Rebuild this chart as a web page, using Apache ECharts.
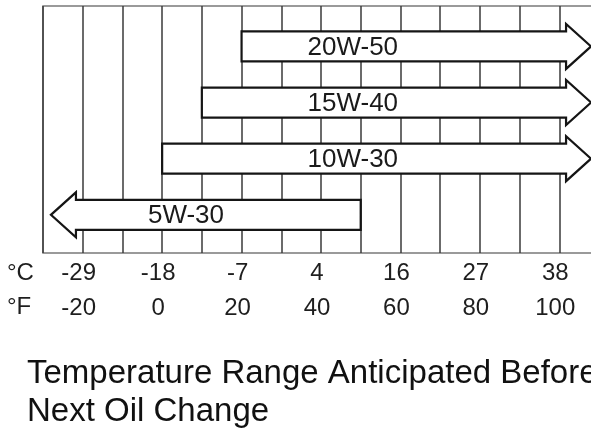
<!DOCTYPE html>
<html>
<head>
<meta charset="utf-8">
<script src="https://cdn.jsdelivr.net/npm/echarts@6/dist/echarts.min.js"></script>
<style>
  html, body { margin: 0; padding: 0; background: #fff; }
  #chart { width: 591px; height: 433px; }
</style>
</head>
<body>
<div id="chart"></div>
<script>
// ---- data ----
const grades = ['5W-30', '10W-30', '15W-40', '20W-50'];
const lowF   = [-28, 0, 10, 20];        // lower end of range (°F); 5W-30 open-ended to the left
const highF  = [50, 108, 108, 108];     // upper end of range (°F); others open-ended to the right
const arrowDir = ['left', 'right', 'right', 'right'];
const fTicks = [-20, 0, 20, 40, 60, 80, 100];
const cTicks = ['-29', '-18', '-7', '4', '16', '27', '38'];
const titleLines = ['Temperature Range Anticipated Before', 'Next Oil Change'];

// ---- style ----
const FONT = "'Liberation Sans', Arial, Helvetica, sans-serif";
const BODY_HALF = 15, HEAD_HALF = 22.5, HEAD_LEN = 25;
const LABEL_AT = { right: 48, left: 6 }; // label anchor in °F

const seriesData = grades.map((g, i) => [lowF[i], highF[i], i, arrowDir[i] === 'left' ? 0 : 1]);

function renderArrow(params, api) {
  const lo = api.coord([api.value(0), api.value(2)]);
  const hi = api.coord([api.value(1), api.value(2)]);
  const yc = lo[1];
  const right = api.value(3) === 1;
  let pts;
  if (right) {
    const xs = lo[0], xt = hi[0], xb = xt - HEAD_LEN;
    pts = [[xs, yc - BODY_HALF], [xb, yc - BODY_HALF], [xb, yc - HEAD_HALF], [xt, yc],
           [xb, yc + HEAD_HALF], [xb, yc + BODY_HALF], [xs, yc + BODY_HALF]];
  } else {
    const xt = lo[0], xe = hi[0], xb = xt + HEAD_LEN;
    pts = [[xe, yc - BODY_HALF], [xb, yc - BODY_HALF], [xb, yc - HEAD_HALF], [xt, yc],
           [xb, yc + HEAD_HALF], [xb, yc + BODY_HALF], [xe, yc + BODY_HALF]];
  }
  const lx = api.coord([right ? LABEL_AT.right : LABEL_AT.left, api.value(2)])[0];
  return {
    type: 'group',
    children: [
      { type: 'polygon', shape: { points: pts },
        style: { fill: '#fff', stroke: '#151515', lineWidth: 2.2, lineJoin: 'miter' } },
      { type: 'text', x: lx, y: yc + 1,
        style: { text: grades[params.dataIndex], font: '26px ' + FONT, fill: '#1a1a1a',
                 align: 'center', verticalAlign: 'middle' } }
    ]
  };
}

const chart = echarts.init(document.getElementById('chart'), null, { renderer: 'canvas' });
chart.setOption({
  animation: false,
  backgroundColor: '#fff',
  grid: { left: 43, top: 6, width: 556, height: 247, show: true,
          outerBoundsMode: 'none', containLabel: false,
          borderColor: '#7a7a7a', borderWidth: 1.5, backgroundColor: 'transparent' },
  xAxis: {
    type: 'value', min: -30, max: 110, interval: 10,
    axisLine: { show: false }, axisTick: { show: false },
    splitLine: { show: true, lineStyle: { color: '#3a3a3a', width: 1.5 } },
    axisLabel: {
      margin: 2.5,
      showMinLabel: true, showMaxLabel: true,
      padding: [0, 8, 0, 0],
      formatter: function (v) {
        const i = fTicks.indexOf(v);
        if (i < 0) return '';
        return '{c|' + cTicks[i] + '}\n{f|' + fTicks[i] + '}';
      },
      rich: {
        c: { fontSize: 24, lineHeight: 35, fontFamily: FONT, color: '#1e1e1e' },
        f: { fontSize: 24, lineHeight: 35, fontFamily: FONT, color: '#1e1e1e' }
      }
    }
  },
  yAxis: { type: 'value', min: -0.68, max: 3.72, show: false, splitLine: { show: false } },
  series: [{
    type: 'custom',
    renderItem: renderArrow,
    encode: { x: [0, 1], y: 2 },
    data: seriesData,
    clip: false
  }],
  graphic: [
    { type: 'text', x: 7, y: 273, style: { text: '°C', font: '24px ' + FONT, fill: '#1e1e1e', verticalAlign: 'middle' } },
    { type: 'text', x: 7, y: 307.5, style: { text: '°F', font: '24px ' + FONT, fill: '#1e1e1e', verticalAlign: 'middle' } },
    { type: 'text', x: 27, y: 374, style: { text: titleLines[0], font: '33px ' + FONT, fill: '#111', verticalAlign: 'middle' } },
    { type: 'text', x: 27, y: 412, style: { text: titleLines[1], font: '33px ' + FONT, fill: '#111', verticalAlign: 'middle' } }
  ]
});
</script>
</body>
</html>
